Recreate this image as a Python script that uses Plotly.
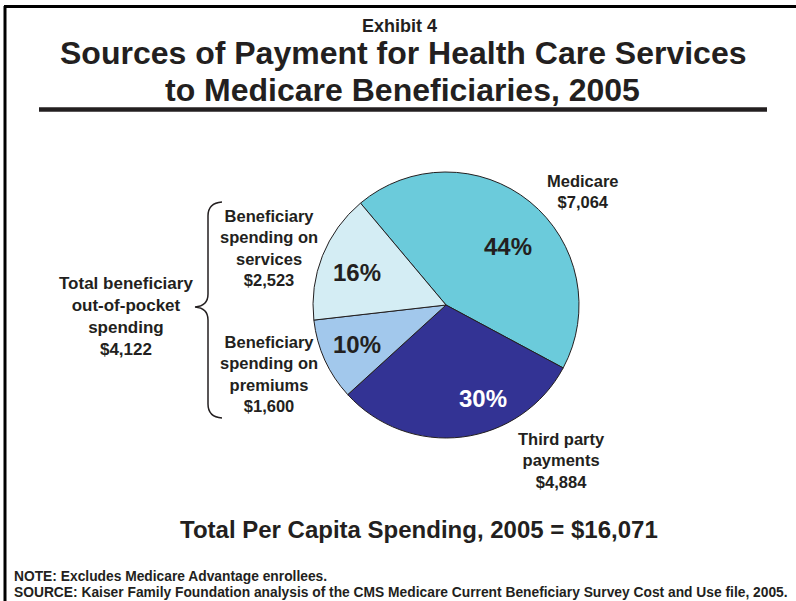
import plotly.graph_objects as go

# Per-capita spending by source of payment, 2005 (dollars)
sources = ["Medicare", "Third party payments",
           "Beneficiary spending on premiums", "Beneficiary spending on services"]
spending = [7064, 4884, 1600, 2523]
out_of_pocket_total = 4122   # published total (components are rounded)
slice_colors = ["#6BCBDB", "#333394", "#A2C8EC", "#D4EDF4"]
pct_colors = ["#231F20", "#FFFFFF", "#231F20", "#231F20"]

total = sum(spending)

W, H = 796, 601
FONT = "Arial, Liberation Sans, sans-serif"


def px(x):
    return x / W


def py(y):
    return 1 - y / H


def money(v):
    return "${:,}".format(v)


# pie placement (pixels)
cx, cy, r = 446, 305, 133

fig = go.Figure(go.Pie(
    labels=sources,
    values=spending,
    sort=False,
    direction="clockwise",
    rotation=-40,
    marker=dict(colors=slice_colors, line=dict(color="#231F20", width=1)),
    textinfo="none",
    hoverinfo="skip",
    showlegend=False,
    domain=dict(x=[px(cx - r), px(cx + r)], y=[py(cy + r), py(cy - r)]),
))

annotations = []


def label(text, x, y, size=16.5, color="#231F20", xanchor="center"):
    annotations.append(dict(
        text=text, x=px(x), y=py(y), xref="paper", yref="paper",
        xanchor=xanchor, yanchor="middle", showarrow=False,
        font=dict(family=FONT, size=size, color=color),
    ))


# headings
label("<b>Exhibit 4</b>", 399, 26, size=18)
label("<b>Sources of Payment for Health Care Services</b>", 403, 53, size=32)
label("<b>to Medicare Beneficiaries, 2005</b>", 402, 90, size=32)

# percentage of total inside each slice
pct_pos = [(508, 246), (483, 398), (357, 344), (357, 272)]
for v, (x, y), c in zip(spending, pct_pos, pct_colors):
    label("<b>%d%%</b>" % round(100 * v / total), x, y, size=24, color=c)

# slice labels
label("<b>Medicare<br>%s</b>" % money(spending[0]), 583, 192)
label("<b>Third party<br>payments<br>%s</b>" % money(spending[1]), 561, 460)
label("<b>Beneficiary<br>spending on<br>premiums<br>%s</b>" % money(spending[2]), 269, 374)
label("<b>Beneficiary<br>spending on<br>services<br>%s</b>" % money(spending[3]), 269, 248)
label("<b>Total beneficiary<br>out-of-pocket<br>spending<br>%s</b>" % money(out_of_pocket_total),
      126, 316, size=17)

# total and footnotes
label("<b>Total Per Capita Spending, 2005 = %s</b>" % money(total), 419, 529, size=24)
label("<b>NOTE: Excludes Medicare Advantage enrollees.</b>", 12, 576, size=13.8, xanchor="left")
label("<b>SOURCE: Kaiser Family Foundation analysis of the CMS Medicare Current "
      "Beneficiary Survey Cost and Use file, 2005.</b>", 12, 592, size=13.8, xanchor="left")

# curly brace grouping the two beneficiary slices
brace_pts = [
    ("M", 222, 202), ("Q", 208, 203, 208, 216), ("L", 208, 294),
    ("Q", 208, 306, 195, 307), ("Q", 208, 308, 208, 320), ("L", 208, 404),
    ("Q", 208, 417, 222, 418),
]
path = ""
for seg in brace_pts:
    cmd, coords = seg[0], seg[1:]
    pairs = ["%.5f,%.5f" % (px(coords[i]), py(coords[i + 1])) for i in range(0, len(coords), 2)]
    path += cmd + " " + " ".join(pairs) + " "

shapes = [
    dict(type="path", path=path.strip(), xref="paper", yref="paper",
         line=dict(color="#231F20", width=1.5)),
    # rule under the title
    dict(type="line", xref="paper", yref="paper", x0=px(39), x1=px(767),
         y0=py(109.5), y1=py(109.5), line=dict(color="#231F20", width=4.5)),
    # frame edges
    dict(type="line", xref="paper", yref="paper", x0=px(5), x1=px(5),
         y0=py(6), y1=0, line=dict(color="#000000", width=3)),
    dict(type="line", xref="paper", yref="paper", x0=px(4), x1=1,
         y0=py(6.5), y1=py(6.5), line=dict(color="#000000", width=3)),
]

fig.update_layout(
    width=W, height=H,
    margin=dict(l=0, r=0, t=0, b=0),
    paper_bgcolor="white", plot_bgcolor="white",
    annotations=annotations, shapes=shapes,
)

fig.write_html("out.html")
